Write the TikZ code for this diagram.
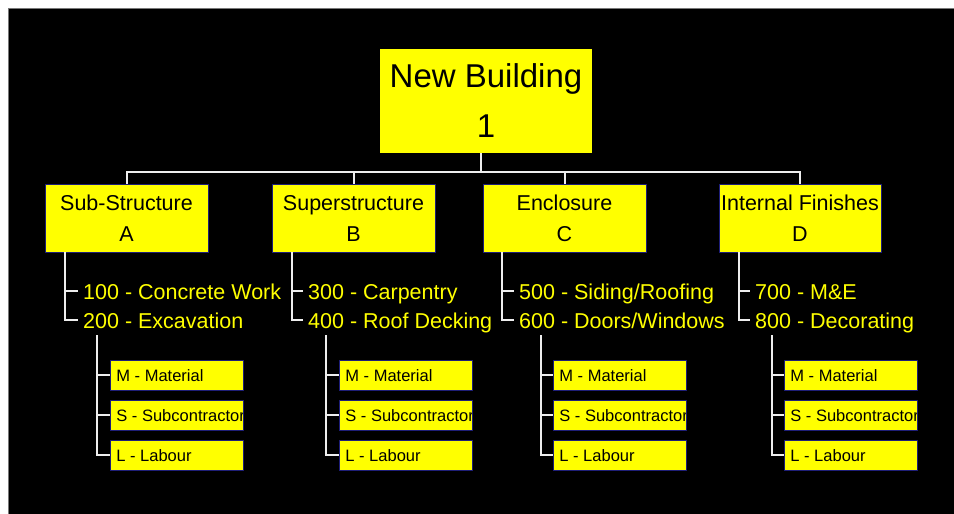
\documentclass[tikz,border=0pt]{standalone}
\usepackage{fontspec}
\setmainfont{Liberation Sans}
\usetikzlibrary{calc}
\definecolor{boxyellow}{RGB}{255,255,0}
\definecolor{boxedge}{RGB}{30,30,120}
\definecolor{linkgray}{RGB}{238,238,238}
\definecolor{framegray}{RGB}{120,120,120}
\begin{document}
\begin{tikzpicture}[x=1pt,y=-1pt,
  topbox/.style={fill=boxyellow, draw=none, minimum width=212pt, minimum height=104pt,
    inner sep=0pt, align=center, font=\fontsize{33}{50}\selectfont},
  phasebox/.style={fill=boxyellow, draw=boxedge, line width=0.8pt, minimum width=163pt,
    minimum height=68pt, inner sep=0pt, align=center, text depth=-3pt,
    font=\fontsize{21.5}{31}\selectfont},
  workitem/.style={anchor=base west, inner sep=0pt, text=boxyellow, text height=15.4pt,
    text depth=0pt, font=\fontsize{21.5}{26}\selectfont},
  costtext/.style={anchor=base west, inner sep=0pt, minimum width=0pt, minimum height=0pt,
    text depth=0pt, fill=none, draw=none, font=\fontsize{16.5}{18}\selectfont},
  costbox/.style={fill=boxyellow, draw=boxedge, line width=0.8pt, minimum width=133pt,
    minimum height=30pt, inner sep=0pt,
    path picture={\node[costtext]
      at ([shift={(6pt,-6pt)}]path picture bounding box.west) {#1};}},
  link/.style={draw=linkgray, line width=2pt},
]
\useasboundingbox (0,0) rectangle (954,514);
\fill[white] (0,0) rectangle (954,514);
\draw[framegray, fill=black, line width=1pt] (8.5,8.5) rectangle (960,520);

% root and phases
\node[topbox] (root) at (486,101) {New Building\\1};
\node[phasebox] (A) at (126.5,218) {Sub-Structure\\A};
\node[phasebox] (B) at (353.5,218) {Superstructure\\B};
\node[phasebox] (C) at (564.5,218) {Enclosure\\C};
\node[phasebox, minimum width=162pt] (D) at (800,218) {Internal Finishes\\D};

% bus from the root to the phases
\coordinate (bus) at (481,172);
\draw[link] (root.south -| bus) -- (bus);
\draw[link] (A.north) -- (A.north |- bus) -- (D.north |- bus) -- (D.north);
\draw[link] (B.north) -- (B.north |- bus);
\draw[link] (C.north) -- (C.north |- bus);

% work packages and cost types under each phase
\foreach \n/\sx/\tx/\csx/\cbx/\ia/\ib in {
  A/65/83/97/176.5/{100 - Concrete Work}/{200 - Excavation},
  B/292/308/326/405.5/{300 - Carpentry}/{400 - Roof Decking},
  C/502/519/541/619.5/{500 - Siding/Roofing}/{600 - Doors/Windows},
  D/739/755/772/850.5/{700 - M\&E}/{800 - Decorating}} {
  \node[workitem] (\n1) at (\tx,299) {\ia};
  \node[workitem] (\n2) at (\tx,328) {\ib};
  \coordinate (\n spine) at (\sx,252);
  \draw[link] (\n spine) |- ([xshift=-5pt]\n2.west);
  \draw[link] (\n spine |- \n1.west) -- ([xshift=-5pt]\n1.west);
  \node[costbox={M - Material}] (\n M) at (\cbx,375) {};
  \node[costbox={S - Subcontractor}] (\n S) at (\cbx,415) {};
  \node[costbox={L - Labour}] (\n L) at (\cbx,455) {};
  \coordinate (\n cost) at (\csx,335);
  \draw[link] (\n cost) |- (\n L.west);
  \draw[link] (\n cost |- \n M.west) -- (\n M.west);
  \draw[link] (\n cost |- \n S.west) -- (\n S.west);
}
\end{tikzpicture}
\end{document}
